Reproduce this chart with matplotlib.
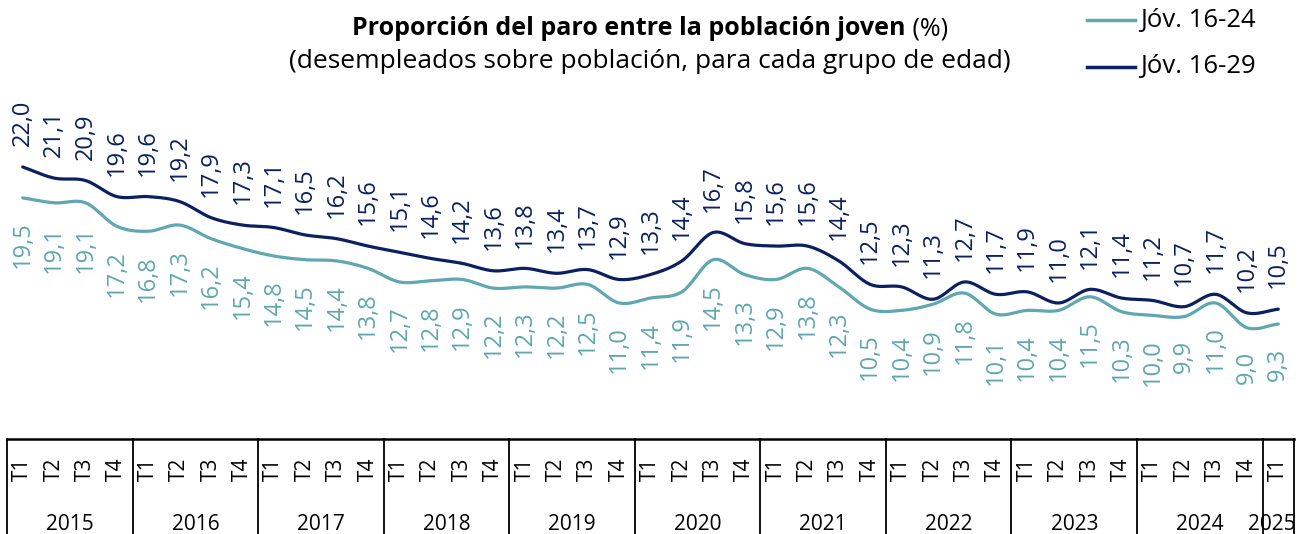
import numpy as np
import matplotlib
matplotlib.use('Agg')
import matplotlib.pyplot as plt
from matplotlib.transforms import blended_transform_factory

plt.rcParams['font.family'] = ['Open Sans', 'DejaVu Sans']

# Datos trimestrales 2015T1 - 2025T1
years = ['2015', '2016', '2017', '2018', '2019', '2020', '2021', '2022', '2023', '2024', '2025']
quarters = ['T1', 'T2', 'T3', 'T4']
jov_16_24 = [19.5, 19.1, 19.1, 17.2, 16.8, 17.3, 16.2, 15.4, 14.8, 14.5, 14.4, 13.8,
             12.7, 12.8, 12.9, 12.2, 12.3, 12.2, 12.5, 11.0, 11.4, 11.9, 14.5, 13.3,
             12.9, 13.8, 12.3, 10.5, 10.4, 10.9, 11.8, 10.1, 10.4, 10.4, 11.5, 10.3,
             10.0, 9.9, 11.0, 9.0, 9.3]
jov_16_29 = [22.0, 21.1, 20.9, 19.6, 19.6, 19.2, 17.9, 17.3, 17.1, 16.5, 16.2, 15.6,
             15.1, 14.6, 14.2, 13.6, 13.8, 13.4, 13.7, 12.9, 13.3, 14.4, 16.7, 15.8,
             15.6, 15.6, 14.4, 12.5, 12.3, 11.3, 12.7, 11.7, 11.9, 11.0, 12.1, 11.4,
             11.2, 10.7, 11.7, 10.2, 10.5]

c_24 = '#5fa7b1'
c_29 = '#0b2060'

n = len(jov_16_24)
x = np.arange(n)


def suavizar(xs, ys, pasos=20):
    # curva Catmull-Rom entre los puntos (linea suavizada)
    xs = np.asarray(xs, float)
    ys = np.asarray(ys, float)
    px = np.concatenate([[2 * xs[0] - xs[1]], xs, [2 * xs[-1] - xs[-2]]])
    py = np.concatenate([[2 * ys[0] - ys[1]], ys, [2 * ys[-1] - ys[-2]]])
    ox, oy = [], []
    t = np.linspace(0, 1, pasos, endpoint=False)
    for i in range(1, len(px) - 2):
        for p, o in ((px, ox), (py, oy)):
            p0, p1, p2, p3 = p[i - 1], p[i], p[i + 1], p[i + 2]
            o.extend(0.5 * ((2 * p1) + (-p0 + p2) * t
                            + (2 * p0 - 5 * p1 + 4 * p2 - p3) * t ** 2
                            + (-p0 + 3 * p1 - 3 * p2 + p3) * t ** 3))
    ox.append(xs[-1])
    oy.append(ys[-1])
    return np.array(ox), np.array(oy)


W, H = 1299, 534
fig = plt.figure(figsize=(W / 100, H / 100), dpi=100)
ax = fig.add_axes([7 / W, (H - 439) / H, (1294 - 7) / W, 439 / H])
ax.set_xlim(-0.5, n - 0.5)
ax.set_ylim(0, 35.5)
ax.axis('off')

sx, sy = suavizar(x, jov_16_24)
ax.plot(sx, sy, color=c_24, lw=2.3, solid_capstyle='round')
sx, sy = suavizar(x, jov_16_29)
ax.plot(sx, sy, color=c_29, lw=2.3, solid_capstyle='round')

for i in range(n):
    ax.annotate(f'{jov_16_29[i]:.1f}'.replace('.', ','), (x[i], jov_16_29[i]),
                xytext=(0, 15), textcoords='offset points', rotation=90,
                ha='center', va='bottom', color=c_29, fontsize=17)
    ax.annotate(f'{jov_16_24[i]:.1f}'.replace('.', ','), (x[i], jov_16_24[i]),
                xytext=(0, -17), textcoords='offset points', rotation=90,
                ha='center', va='top', color=c_24, fontsize=17)

# tabla del eje horizontal: trimestres y años
tr = blended_transform_factory(ax.transData, fig.transFigure)
y_top = (H - 439) / H
ax.plot([-0.5, n - 0.5], [y_top, y_top], color='black', lw=1.8, transform=tr, clip_on=False)
for b in list(np.arange(-0.5, n, 4)) + [n - 0.5]:
    ax.plot([b, b], [0, y_top], color='black', lw=1.3, transform=tr, clip_on=False)
for i in range(n):
    ax.text(x[i], (H - 469) / H, quarters[i % 4], rotation=90, ha='center', va='center',
            fontsize=15, transform=tr)
for k, yr in enumerate(years):
    xc = min(4 * k + 1.5, n - 1.2)
    ax.text(xc, (H - 524) / H, yr, ha='center', va='center', fontsize=15, transform=tr)

# titulo
t1 = fig.text(352 / W, (H - 35) / H, 'Proporción del paro entre la población joven',
              fontsize=18, fontweight='bold', ha='left', va='baseline')
ax.annotate(' (%)', xy=(1, 0), xycoords=t1, ha='left', va='bottom', fontsize=18)
fig.text(650 / W, (H - 68) / H, '(desempleados sobre población, para cada grupo de edad)',
         fontsize=19, ha='center', va='baseline')

# leyenda
for yy, lab, col in ((20, 'Jóv. 16-24', c_24), (67, 'Jóv. 16-29', c_29)):
    fig.add_artist(plt.Line2D([1087 / W, 1135 / W], [(H - yy) / H] * 2, color=col, lw=2.5))
    fig.text(1140 / W, (H - yy) / H, lab, fontsize=18.5, ha='left', va='center')

fig.savefig('out.png', dpi=100)
